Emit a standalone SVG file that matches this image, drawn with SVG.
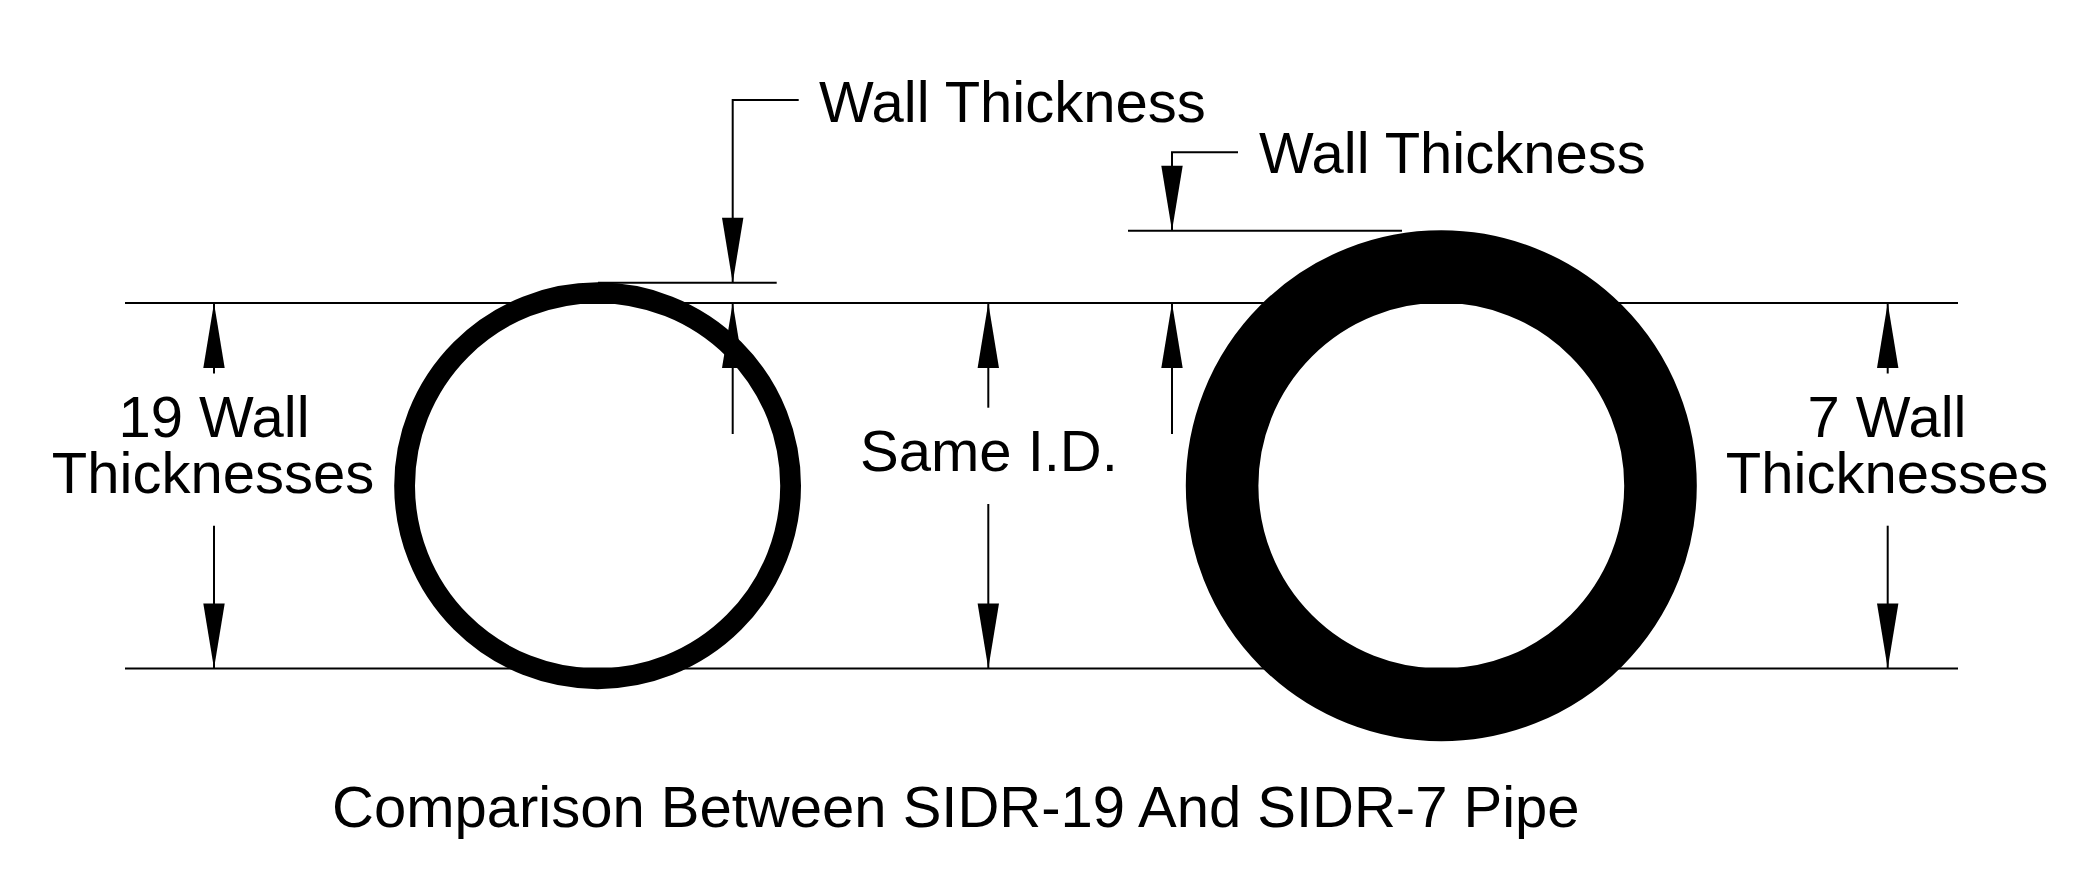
<svg xmlns="http://www.w3.org/2000/svg" width="2082" height="890" viewBox="0 0 2082 890">
<style>
.l{fill:none;stroke:#000;stroke-width:2}
.a{marker-end:url(#arrow)}
.p{fill:none;stroke:#000}
text{font-family:"Liberation Sans",Arial,sans-serif;font-size:58px;fill:#000}
.m{text-anchor:middle}
</style>
<defs>
<marker id="arrow" markerUnits="userSpaceOnUse" viewBox="-66 -12 67 24" refX="0" refY="0" markerWidth="67" markerHeight="24" orient="auto" overflow="visible">
<path d="M0,0L-65,-10.7L-65,10.7Z" fill="#000"/>
</marker>
</defs>
<rect width="2082" height="890" fill="#fff"/>
<g id="connectors">
<path class="l" d="M125,303H1958"/>
<path class="l" d="M125,668.5H1958"/>
<path class="l" d="M598,282.7H776.7"/>
<path class="l" d="M1128,230.7H1402"/>
<path class="l a" d="M214,373.5V303"/>
<path class="l a" d="M214,525.7V668.5"/>
<path class="l a" d="M988.3,407.7V303"/>
<path class="l a" d="M988.3,504V668.5"/>
<path class="l a" d="M1887.7,373.5V303"/>
<path class="l a" d="M1887.7,525.7V668.5"/>
<path class="l a" d="M798.7,100H732.7V282.7"/>
<path class="l a" d="M732.7,434V303"/>
<path class="l a" d="M1238,152.3H1172V230.7"/>
<path class="l a" d="M1172,434V303"/>
</g>
<g id="pipe-sidr-19"><circle class="p" cx="597.6" cy="485.75" r="193" stroke-width="20.8"/></g>
<g id="pipe-sidr-7"><circle class="p" cx="1441.3" cy="485.75" r="219.2" stroke-width="72.6"/></g>
<g id="label-wall-1"><text x="819" y="121.7">Wall Thickness</text></g>
<g id="label-wall-2"><text x="1259" y="173">Wall Thickness</text></g>
<g id="label-19"><text class="m"><tspan x="214" y="436.7">19 Wall</tspan><tspan x="213" y="492.7">Thicknesses</tspan></text></g>
<g id="label-same"><text x="860" y="470.7">Same I.D.</text></g>
<g id="label-7"><text class="m"><tspan x="1887" y="436.7">7 Wall</tspan><tspan x="1887" y="492.7">Thicknesses</tspan></text></g>
<g id="title"><text x="332" y="826.7">Comparison Between SIDR-19 And SIDR-7 Pipe</text></g>
</svg>
